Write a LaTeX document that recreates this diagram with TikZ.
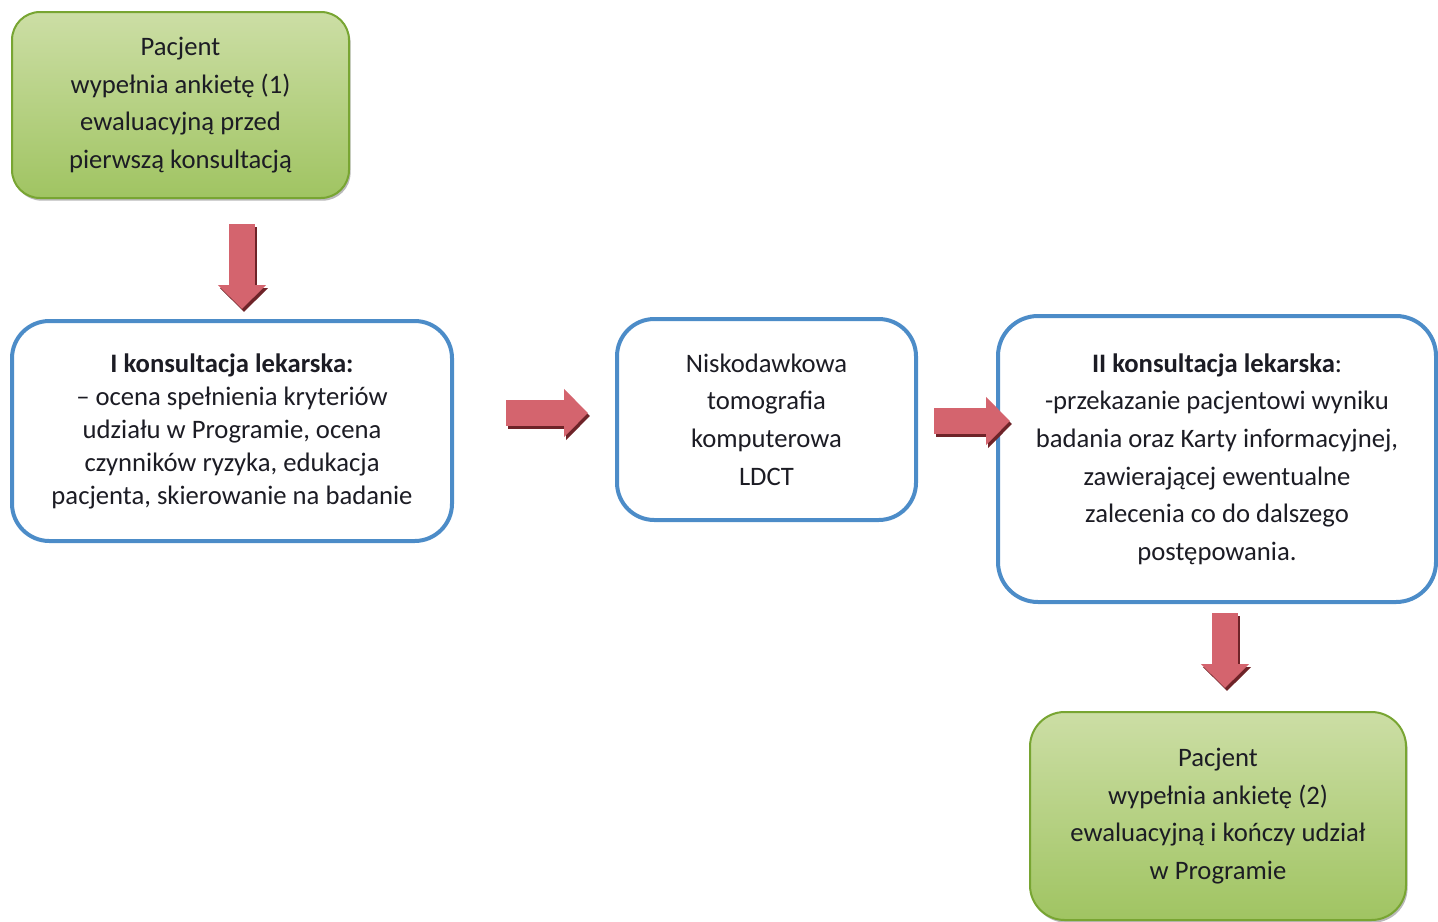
\documentclass[tikz,border=0pt]{standalone}
\usepackage{fontspec}
\setmainfont{Carlito}
\usetikzlibrary{arrows.meta,shadows}

\definecolor{ramka}{RGB}{76,140,200}
\definecolor{zielonyjasny}{RGB}{204,222,165}
\definecolor{zielonyciemny}{RGB}{160,196,98}
\definecolor{zielonaramka}{RGB}{120,165,50}
\definecolor{strzalkakolor}{RGB}{212,100,110}
\definecolor{strzalkacien}{RGB}{110,35,40}
\definecolor{tekst}{RGB}{28,28,36}

\begin{document}
\begin{tikzpicture}[x=0.75pt,y=0.75pt,yscale=-1,xscale=1,
    krok/.style={draw=ramka, line width=3pt, rounded corners=28pt, fill=white,
        align=center, text=tekst, inner sep=0pt,
        font=\fontsize{20}{28.2}\selectfont},
    ankieta/.style={draw=zielonaramka, line width=1.5pt, rounded corners=21pt,
        top color=zielonyjasny, bottom color=zielonyciemny,
        drop shadow={shadow xshift=1.2pt, shadow yshift=-2pt, fill=black!55},
        align=center, text=tekst, inner sep=0pt,
        font=\fontsize{20}{28.2}\selectfont},
    strzalka/.style={draw=strzalkakolor, line width=19pt,
        -{Triangle[width=35pt,length=18pt]}},
    strzalkacienia/.style={draw=strzalkacien, line width=19pt,
        -{Triangle[width=35pt,length=18pt]}}]
    \useasboundingbox (0,0) rectangle (1438,921);

    % Text Node
    \node[ankieta, minimum width=252.75pt, minimum height=139.5pt] (ankieta1) at (180.5,105)
        {Pacjent\\ wypełnia ankietę (1)\\ ewaluacyjną przed\\ pierwszą konsultacją};
    % Text Node
    \node[krok, minimum width=330pt, minimum height=165pt, font=\fontsize{20}{24.75}\selectfont] (konsultacja1) at (232,431)
        {\textbf{I konsultacja lekarska:}\\ – ocena spełnienia kryteriów\\ udziału w Programie, ocena\\ czynników ryzyka, edukacja\\ pacjenta, skierowanie na badanie};
    % Text Node
    \node[krok, minimum width=224.25pt, minimum height=150.75pt] (ldct) at (766.5,419.5)
        {Niskodawkowa\\ tomografia\\ komputerowa\\ LDCT};
    % Text Node
    \node[krok, minimum width=328.5pt, minimum height=214.5pt, rounded corners=30pt] (konsultacja2) at (1217,459)
        {\textbf{II konsultacja lekarska}:\\ -przekazanie pacjentowi wyniku\\ badania oraz Karty informacyjnej,\\ zawierającej ewentualne\\ zalecenia co do dalszego\\ postępowania.};
    % Text Node
    \node[ankieta, minimum width=282pt, minimum height=156pt, rounded corners=26pt] (ankieta2) at (1218,816)
        {Pacjent\\ wypełnia ankietę (2)\\ ewaluacyjną i kończy udział\\ w Programie};

    % Arrow ends
    \coordinate (s1a) at (242,224);  \coordinate (s1b) at (242,309);
    \coordinate (s2a) at (506,413);  \coordinate (s2b) at (588,413);
    \coordinate (s3a) at (934,421);  \coordinate (s3b) at (1010,421);
    \coordinate (s4a) at (1225,613); \coordinate (s4b) at (1225,688);

    % Connection
    \draw[strzalkacienia] ([shift={(2,3)}]s1a) -- ([shift={(2,3)}]s1b);
    \draw[strzalka] (s1a) -- (s1b);
    % Connection
    \draw[strzalkacienia] ([shift={(2,3)}]s2a) -- ([shift={(2,3)}]s2b);
    \draw[strzalka] (s2a) -- (s2b);
    % Connection
    \draw[strzalkacienia] ([shift={(2,3)}]s3a) -- ([shift={(2,3)}]s3b);
    \draw[strzalka] (s3a) -- (s3b);
    % Connection
    \draw[strzalkacienia] ([shift={(2,3)}]s4a) -- ([shift={(2,3)}]s4b);
    \draw[strzalka] (s4a) -- (s4b);

\end{tikzpicture}
\end{document}
